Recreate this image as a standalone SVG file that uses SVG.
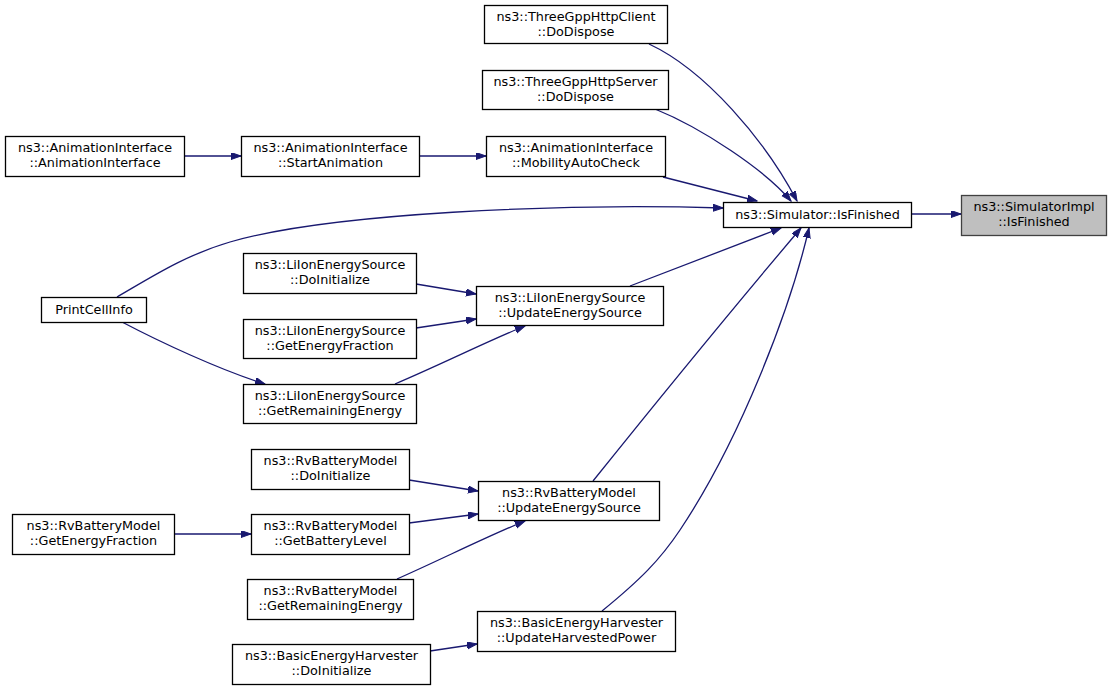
<svg xmlns="http://www.w3.org/2000/svg" width="1112" height="691" viewBox="0 0 1112 691">
<defs>
<marker id="ah" markerUnits="userSpaceOnUse" markerWidth="11" markerHeight="8" refX="10" refY="3.5" orient="auto">
<path d="M0,0 L10,3.5 L0,7 z" fill="#191970" stroke="#191970" stroke-width="1"/>
</marker>
<style>
.n rect{fill:#ffffff;stroke:#000000;stroke-width:1.3}
.n.g rect{fill:#bfbfbf;stroke:#404040}
.n text{font-family:"DejaVu Sans","Liberation Sans",sans-serif;font-size:12.8px;text-anchor:middle;fill:#000}
.e path{fill:none;stroke:#191970;stroke-width:1.3;marker-end:url(#ah)}
</style>
</defs>
<rect width="1112" height="691" fill="#ffffff"/>
<g class="e" id="edges">
<path d="M649,44 C705,70 765,140 797,201"/>
<path d="M655,109 C702,128 765,170 791,201"/>
<path d="M663,177 L757,201"/>
<path d="M419,156 L486,156"/>
<path d="M184,156 L241,156"/>
<path d="M911,214 L961,214"/>
<path d="M117,297 C150,278 185,255 230,242 C330,213 560,203 723,208"/>
<path d="M122,322 C160,342 220,370 265,384"/>
<path d="M416,284 L476,294"/>
<path d="M416,328 L476,319"/>
<path d="M395,384 C440,365 490,340 525,326"/>
<path d="M630,286 L781,228"/>
<path d="M409,480 L478,491"/>
<path d="M409,523 L478,514"/>
<path d="M397,579 C440,560 490,535 525,521"/>
<path d="M174,534 L251,534"/>
<path d="M593,481 C650,410 740,300 801,228"/>
<path d="M430,651 L477,644"/>
<path d="M602,611 C640,580 660,560 680,530 C740,440 790,310 809,228"/>
</g>
<g class="n" id="n_client"><rect x="484.5" y="5.5" width="183" height="38"/><text x="576" y="21">ns3::ThreeGppHttpClient</text><text x="576" y="36">::DoDispose</text></g>
<g class="n" id="n_server"><rect x="482.5" y="70.5" width="186" height="39"/><text x="575.5" y="86">ns3::ThreeGppHttpServer</text><text x="575.5" y="101">::DoDispose</text></g>
<g class="n" id="n_mobility"><rect x="486.5" y="136.5" width="179" height="40"/><text x="576" y="152">ns3::AnimationInterface</text><text x="576" y="167">::MobilityAutoCheck</text></g>
<g class="n" id="n_animif"><rect x="5.5" y="136.5" width="179" height="40"/><text x="95" y="152">ns3::AnimationInterface</text><text x="95" y="167">::AnimationInterface</text></g>
<g class="n" id="n_start"><rect x="241.5" y="136.5" width="178" height="40"/><text x="330.5" y="152">ns3::AnimationInterface</text><text x="330.5" y="167">::StartAnimation</text></g>
<g class="n" id="n_sim"><rect x="723.5" y="202.5" width="188" height="25"/><text x="817.5" y="218.5">ns3::Simulator::IsFinished</text></g>
<g class="n g" id="n_impl"><rect x="961.5" y="195.5" width="145" height="40"/><text x="1034" y="211">ns3::SimulatorImpl</text><text x="1034" y="226">::IsFinished</text></g>
<g class="n" id="n_print"><rect x="41.5" y="297.5" width="105" height="25"/><text x="94" y="313.5">PrintCellInfo</text></g>
<g class="n" id="n_li_init"><rect x="243.5" y="253.5" width="173" height="40"/><text x="330" y="269">ns3::LiIonEnergySource</text><text x="330" y="284">::DoInitialize</text></g>
<g class="n" id="n_li_upd"><rect x="476.5" y="286.5" width="187" height="39"/><text x="570" y="302">ns3::LiIonEnergySource</text><text x="570" y="317">::UpdateEnergySource</text></g>
<g class="n" id="n_li_gef"><rect x="243.5" y="319.5" width="173" height="39"/><text x="330" y="335">ns3::LiIonEnergySource</text><text x="330" y="350">::GetEnergyFraction</text></g>
<g class="n" id="n_li_gre"><rect x="243.5" y="384.5" width="173" height="39"/><text x="330" y="400">ns3::LiIonEnergySource</text><text x="330" y="415">::GetRemainingEnergy</text></g>
<g class="n" id="n_rv_init"><rect x="251.5" y="449.5" width="158" height="40"/><text x="330.5" y="465">ns3::RvBatteryModel</text><text x="330.5" y="480">::DoInitialize</text></g>
<g class="n" id="n_rv_upd"><rect x="478.5" y="481.5" width="181" height="39"/><text x="569" y="497">ns3::RvBatteryModel</text><text x="569" y="512">::UpdateEnergySource</text></g>
<g class="n" id="n_rv_gef"><rect x="12.5" y="514.5" width="162" height="40"/><text x="93.5" y="530">ns3::RvBatteryModel</text><text x="93.5" y="545">::GetEnergyFraction</text></g>
<g class="n" id="n_rv_gbl"><rect x="251.5" y="514.5" width="158" height="40"/><text x="330.5" y="530">ns3::RvBatteryModel</text><text x="330.5" y="545">::GetBatteryLevel</text></g>
<g class="n" id="n_rv_gre"><rect x="247.5" y="579.5" width="166" height="40"/><text x="330.5" y="595">ns3::RvBatteryModel</text><text x="330.5" y="610">::GetRemainingEnergy</text></g>
<g class="n" id="n_beh_upd"><rect x="477.5" y="611.5" width="198" height="40"/><text x="576.5" y="627">ns3::BasicEnergyHarvester</text><text x="576.5" y="642">::UpdateHarvestedPower</text></g>
<g class="n" id="n_beh_init"><rect x="232.5" y="644.5" width="198" height="40"/><text x="331.5" y="660">ns3::BasicEnergyHarvester</text><text x="331.5" y="675">::DoInitialize</text></g>
</svg>
